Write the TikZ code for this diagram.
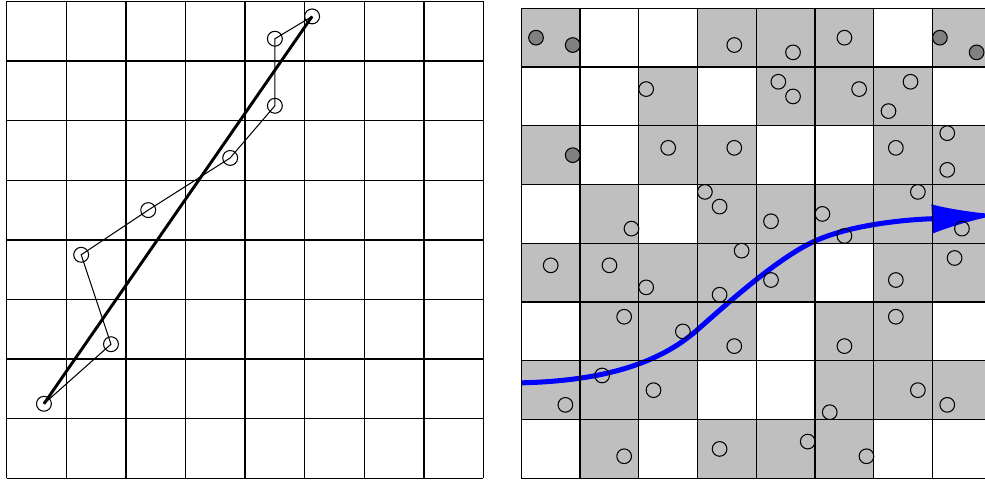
\documentclass[tikz,border=0pt]{standalone}
\usetikzlibrary{arrows.meta}
\tikzset{
  pt/.style={draw, circle, inner sep=0pt, minimum size=0.25cm, line width=0.5pt},
  gridline/.style={line width=0.6pt},
  cellfill/.style={fill=gray!50}
}
\begin{document}
\begin{tikzpicture}
\clip (0,0) rectangle (16.527,8.070);
% Left grid
\begin{scope}[shift={(0.112,0.045)}]
\draw[gridline] (0,0) grid (8,8);
% Points
\node[pt] (p1) at (0.625,1.25) {};
\node[pt] (p2) at (1.75,2.25) {};
\node[pt] (p3) at (1.25,3.75) {};
\node[pt] (p4) at (2.375,4.5) {};
\node[pt] (p5) at (3.75,5.375) {};
\node[pt] (p6) at (4.5,6.25) {};
\node[pt] (p7) at (4.5,7.375) {};
\node[pt] (p8) at (5.125,7.75) {};
% Path through the points
\draw[line width=0.5pt] (p1.center) -- (p2.center) -- (p3.center) -- (p4.center)
  -- (p5.center) -- (p6.center) -- (p7.center) -- (p8.center);
% Straight line
\draw[line width=1.4pt] (p1.center) -- (p8.center);
\end{scope}
% Right grid
\begin{scope}[shift={(8.747,0.045)}, scale=0.9857]
% Shaded cells
\foreach \x/\y in {0/7,3/7,4/7,5/7,7/7, 2/6,4/6,5/6,6/6, 0/5,2/5,3/5,6/5,7/5,
  1/4,3/4,4/4,5/4,6/4,7/4, 0/3,1/3,2/3,3/3,4/3,6/3,7/3, 1/2,2/2,3/2,5/2,6/2,
  0/1,1/1,2/1,5/1,6/1,7/1, 1/0,3/0,4/0,5/0}
  \fill[cellfill] (\x,\y) rectangle ++(1,1);
% Curve
\coordinate (start) at (0,1.625);
\coordinate (tip) at (8.15,4.49);
\draw[blue, line width=2.4pt, -{Latex[length=1.14cm,width=0.49cm]}]
  (start) .. controls (1.5,1.66) and (2.4,2.0) .. (3,2.53)
  .. controls (3.6,3.06) and (4.4,3.77) .. (5,4.04)
  .. controls (5.8,4.4) and (7.05,4.42) .. (tip);
\draw[gridline] (0,0) grid (8,8);
% Open points
\foreach \x/\y in {3.625/7.375, 2.125/6.625, 2.5/5.625, 3.625/5.625, 3.125/4.875,
  3.375/4.625, 1.875/4.25, 4.625/7.25, 5.5/7.5, 4.375/6.75, 4.625/6.5, 5.75/6.625,
  6.625/6.75, 6.25/6.25, 6.375/5.625, 7.25/5.875, 7.25/5.25, 6.75/4.875,
  4.25/4.375, 5.125/4.5, 5.5/4.125, 7.5/4.25, 3.75/3.875, 0.5/3.625, 1.5/3.625,
  2.125/3.25, 3.375/3.125, 1.75/2.75, 2.75/2.5, 3.625/2.25, 1.375/1.75, 2.25/1.5,
  0.75/1.25, 1.75/0.375, 3.375/0.5, 7.375/3.75, 4.25/3.375, 6.375/3.375,
  6.375/2.75, 5.5/2.25, 6.75/1.5, 7.25/1.25, 5.25/1.125, 4.875/0.625, 5.875/0.375}
  \draw[line width=0.5pt] (\x,\y) circle (0.125);
% Filled points
\foreach \x/\y in {0.25/7.5, 0.875/7.375, 0.875/5.5, 7.125/7.5, 7.75/7.25}
  \filldraw[fill=gray, line width=0.5pt] (\x,\y) circle (0.125);
\end{scope}
\end{tikzpicture}
\end{document}
